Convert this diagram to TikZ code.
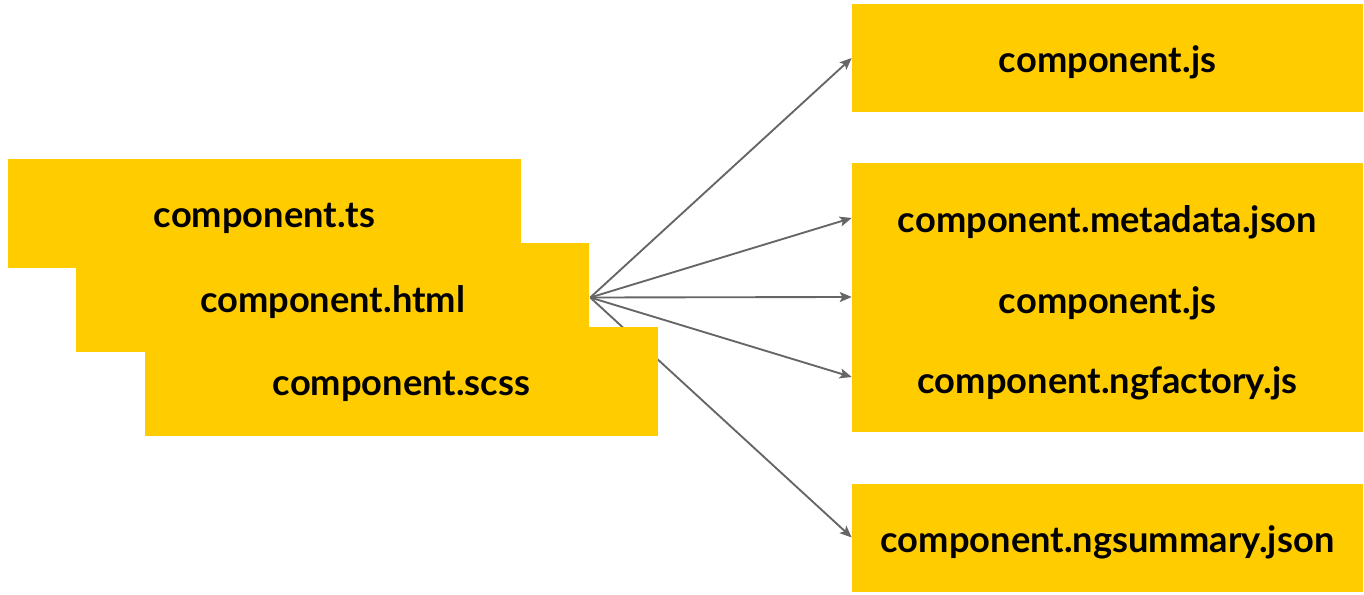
\documentclass[tikz,border=0pt]{standalone}
\usepackage{fontspec}
\setmainfont{Lato}
\usetikzlibrary{arrows.meta,backgrounds}
\definecolor{boxyellow}{HTML}{FFCC00}
\definecolor{arrowgray}{HTML}{666666}
\newcommand{\dn}[1]{\raisebox{-3.5pt}[\height][\depth]{#1}}
\tikzset{
  filebox/.style={fill=boxyellow, draw=none, inner sep=0pt, minimum width=384.75pt, minimum height=81.75pt, font=\fontsize{27.2}{32}\selectfont\bfseries},
  outbox/.style={fill=boxyellow, draw=none, inner sep=0pt, minimum width=383.25pt, minimum height=81pt, font=\fontsize{27.2}{32}\selectfont\bfseries},
  label/.style={inner sep=0pt, font=\fontsize{27.2}{32}\selectfont\bfseries},
  conn/.style={draw=arrowgray, line width=1.4pt, -{Stealth[length=9pt,width=7.5pt,inset=2pt]}}
}
\begin{document}
\begin{tikzpicture}[x=0.75pt,y=-0.75pt]
\useasboundingbox (0,0) rectangle (1364,595);
% left stack
\node[filebox] (ts) at (264.5,213.5) {\dn{component.ts}};
\node[filebox] (html) at (332.5,297.5) {\dn{component.html}};
\node[filebox] (scss) at (401.5,381.5) {\dn{component.scss}};
% right boxes
\node[outbox] (js) at (1107.5,58) {\dn{component.js}};
\node[outbox, minimum height=201.75pt] (mid) at (1107.5,297.5) {};
\node[label] (meta) at (1107.5,222.5) {component.metadata.json};
\node[label] (js2) at (1107.5,303) {component.js};
\node[label] (ngf) at (1107.5,383) {component.ngfactory.js};
\node[outbox] (ngs) at (1107.5,537.5) {\dn{component.ngsummary.json}};
% target points
\coordinate (t1) at (js.west);
\coordinate (t2) at (mid.west |- 0,218);
\coordinate (t3) at (mid.west |- 0,297);
\coordinate (t4) at (mid.west |- 0,377);
\coordinate (t5) at (ngs.west);
\coordinate (src) at ([xshift=0.75pt]html.east);
\begin{scope}[on background layer]
\draw[conn] (src) -- (t1);
\draw[conn] (src) -- (t2);
\draw[conn] (src) -- (t3);
\draw[conn] (src) -- (t4);
\draw[conn] (src) -- (t5);
\end{scope}
\end{tikzpicture}
\end{document}
